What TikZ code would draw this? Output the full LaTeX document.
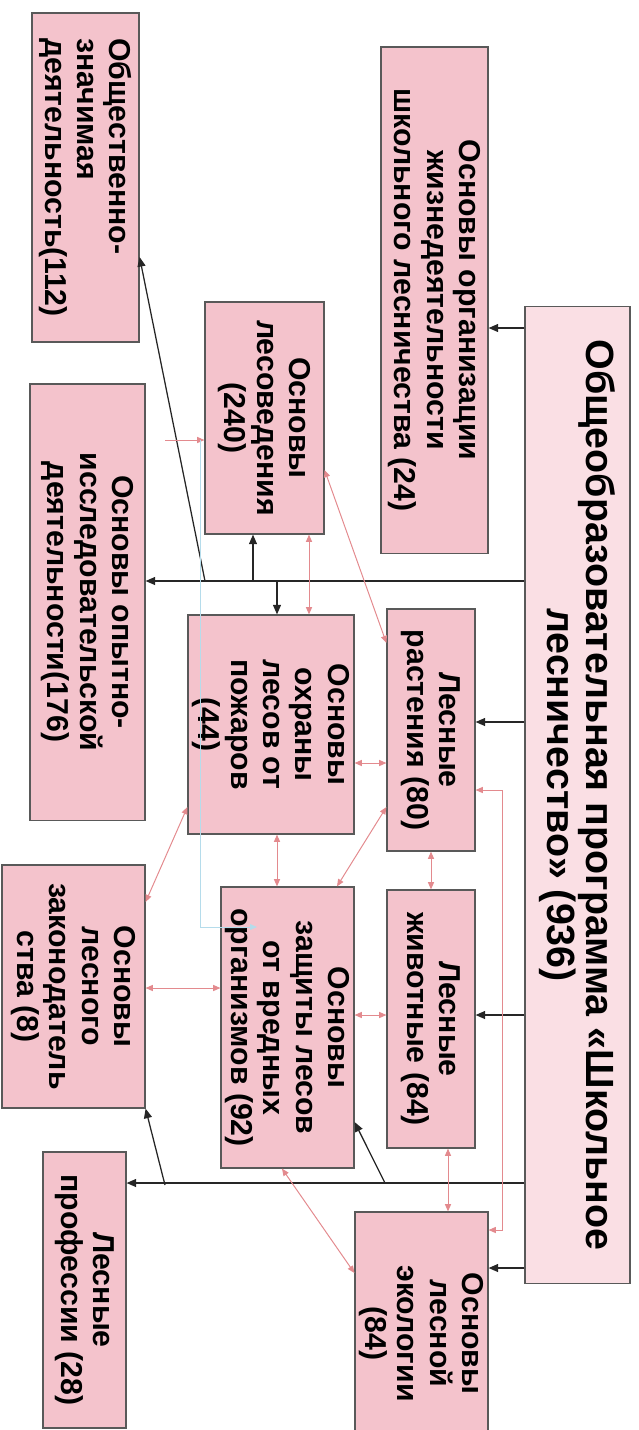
\documentclass[tikz,border=0pt]{standalone}
\usepackage{fontspec}
\setmainfont{Liberation Sans}
\usetikzlibrary{arrows.meta}
\definecolor{boxpink}{HTML}{F4C3CC}
\definecolor{mainpink}{HTML}{FADFE4}
\definecolor{linkpink}{HTML}{E38A8E}
\definecolor{linkblue}{HTML}{B5DCEB}

\begin{document}
\begin{tikzpicture}[x=0.025cm,y=-0.025cm,
    box/.style={draw=black!65,line width=0.8pt,fill=boxpink,rotate=-90,align=center,inner sep=2pt,font=\fontsize{21.5}{23}\selectfont\bfseries},
    arr/.style={black!85,line width=0.9pt,-{Triangle[length=2.4mm,width=2mm]}},
    parr/.style={linkpink,line width=0.7pt,-{Triangle[length=1.8mm,width=1.5mm]}},
    pdarr/.style={parr,{Triangle[length=1.8mm,width=1.5mm]}-{Triangle[length=1.8mm,width=1.5mm]}}]
  \useasboundingbox (0,0) rectangle (639,1430);
  \node[box,fill=mainpink,minimum width=24.4cm,minimum height=2.625cm,font=\fontsize{28}{27.5}\selectfont\bfseries] (main) at (577.5,795) {Общеобразовательная программа «Школьное\\лесничество» (936)};
  \node[box,minimum width=12.65cm,minimum height=2.675cm] (org) at (434.5,300) {Основы организации\\жизнедеятельности\\школьного лесничества (24)};
  \node[box,align=left,minimum width=8.225cm,minimum height=2.675cm] (obsh) at (85.5,177.5) {Общественно-\\значимая\\деятельность(112)};
  \node[box,minimum width=5.8cm,minimum height=2.975cm] (lesoved) at (264.5,418) {Основы\\лесоведения\\(240)};
  \node[box,minimum width=10.9cm,minimum height=2.875cm] (opyt) at (87.5,602) {Основы опытно-\\исследовательской\\деятельности(176)};
  \node[box,minimum width=5.475cm,minimum height=4.15cm] (pozhar) at (271,724.5) {Основы\\охраны\\лесов от\\пожаров\\(44)};
  \node[box,minimum width=6.05cm,minimum height=2.2cm] (rast) at (431,730) {Лесные\\растения (80)};
  \node[box,minimum width=6.45cm,minimum height=2.2cm] (zhiv) at (431,1019) {Лесные\\животные (84)};
  \node[box,minimum width=7.025cm,minimum height=3.325cm] (zashch) at (287.5,1027.5) {Основы\\защиты лесов\\от вредных\\организмов (92)};
  \node[box,minimum width=6.075cm,minimum height=3.575cm] (zakon) at (73.5,986.5) {Основы\\лесного\\законодатель\\ства (8)};
  \node[box,minimum width=6.9cm,minimum height=2.075cm] (prof) at (84.5,1290) {Лесные\\профессии (28)};
  \node[box,minimum width=6.075cm,minimum height=3.325cm] (ekol) at (421.5,1333.5) {Основы\\лесной\\экологии\\(84)};

  \coordinate (ja) at (253,581);
  \coordinate (jb) at (277,581);
  \coordinate (jc) at (205,581);
  \coordinate (jd) at (385,1183);
  \coordinate (je) at (165,1185);
  \coordinate (pa) at (165,440);
  \coordinate (pb) at (200,440);
  \coordinate (pc) at (257,927);

  \draw[arr] (main.south |- 0,328) -- (org.north |- 0,328);
  \draw[arr] (main.south |- 0,581) -- (opyt.north |- 0,581);
  \draw[arr] (ja) -- (ja |- lesoved.east);
  \draw[arr] (jb) -- (jb |- pozhar.west);
  \draw[arr] (jc) -- (obsh.north |- 0,257);
  \draw[arr] (main.south |- 0,722) -- (rast.north |- 0,722);
  \draw[arr] (main.south |- 0,1015) -- (zhiv.north |- 0,1015);
  \draw[arr] (main.south |- 0,1268) -- (ekol.north |- 0,1268);
  \draw[arr] (main.south |- 0,1183) -- (prof.north |- 0,1183);
  \draw[arr] (jd) -- (zashch.north |- 0,1122);
  \draw[arr] (je) -- (zakon.north east);

  \draw[parr] (pa) -- (lesoved.south |- pa);
  \draw[pdarr] (lesoved.north |- 0,470) -- (rast.south |- 0,643);
  \draw[pdarr] (lesoved.east -| 309,0) -- (pozhar.west -| 309,0);
  \draw[pdarr] (pozhar.north |- 0,763) -- (rast.south |- 0,763);
  \draw[pdarr] (pozhar.east -| 277,0) -- (zashch.west -| 277,0);
  \draw[pdarr] (rast.south |- 0,807) -- (zashch.west -| 337,0);
  \draw[pdarr] (rast.east) -- (zhiv.west);
  \draw[pdarr] (pozhar.south |- 0,807) -- (zakon.north |- 0,902);
  \draw[pdarr] (zakon.north |- 0,988) -- (zashch.south |- 0,988);
  \draw[pdarr] (zashch.north |- 0,1015) -- (zhiv.south |- 0,1015);
  \draw[pdarr] (zhiv.east -| 448,0) -- (ekol.west -| 448,0);
  \draw[pdarr] (zashch.east -| 282,0) -- (ekol.south |- 0,1273);
  \draw[pdarr] (rast.north |- 0,790) -- ++(27,0) |- (ekol.north |- 0,1230);

  \draw[linkblue,line width=0.7pt,-{Triangle[length=1.7mm,width=1.4mm]}] (pb) |- (pc);
\end{tikzpicture}
\end{document}
